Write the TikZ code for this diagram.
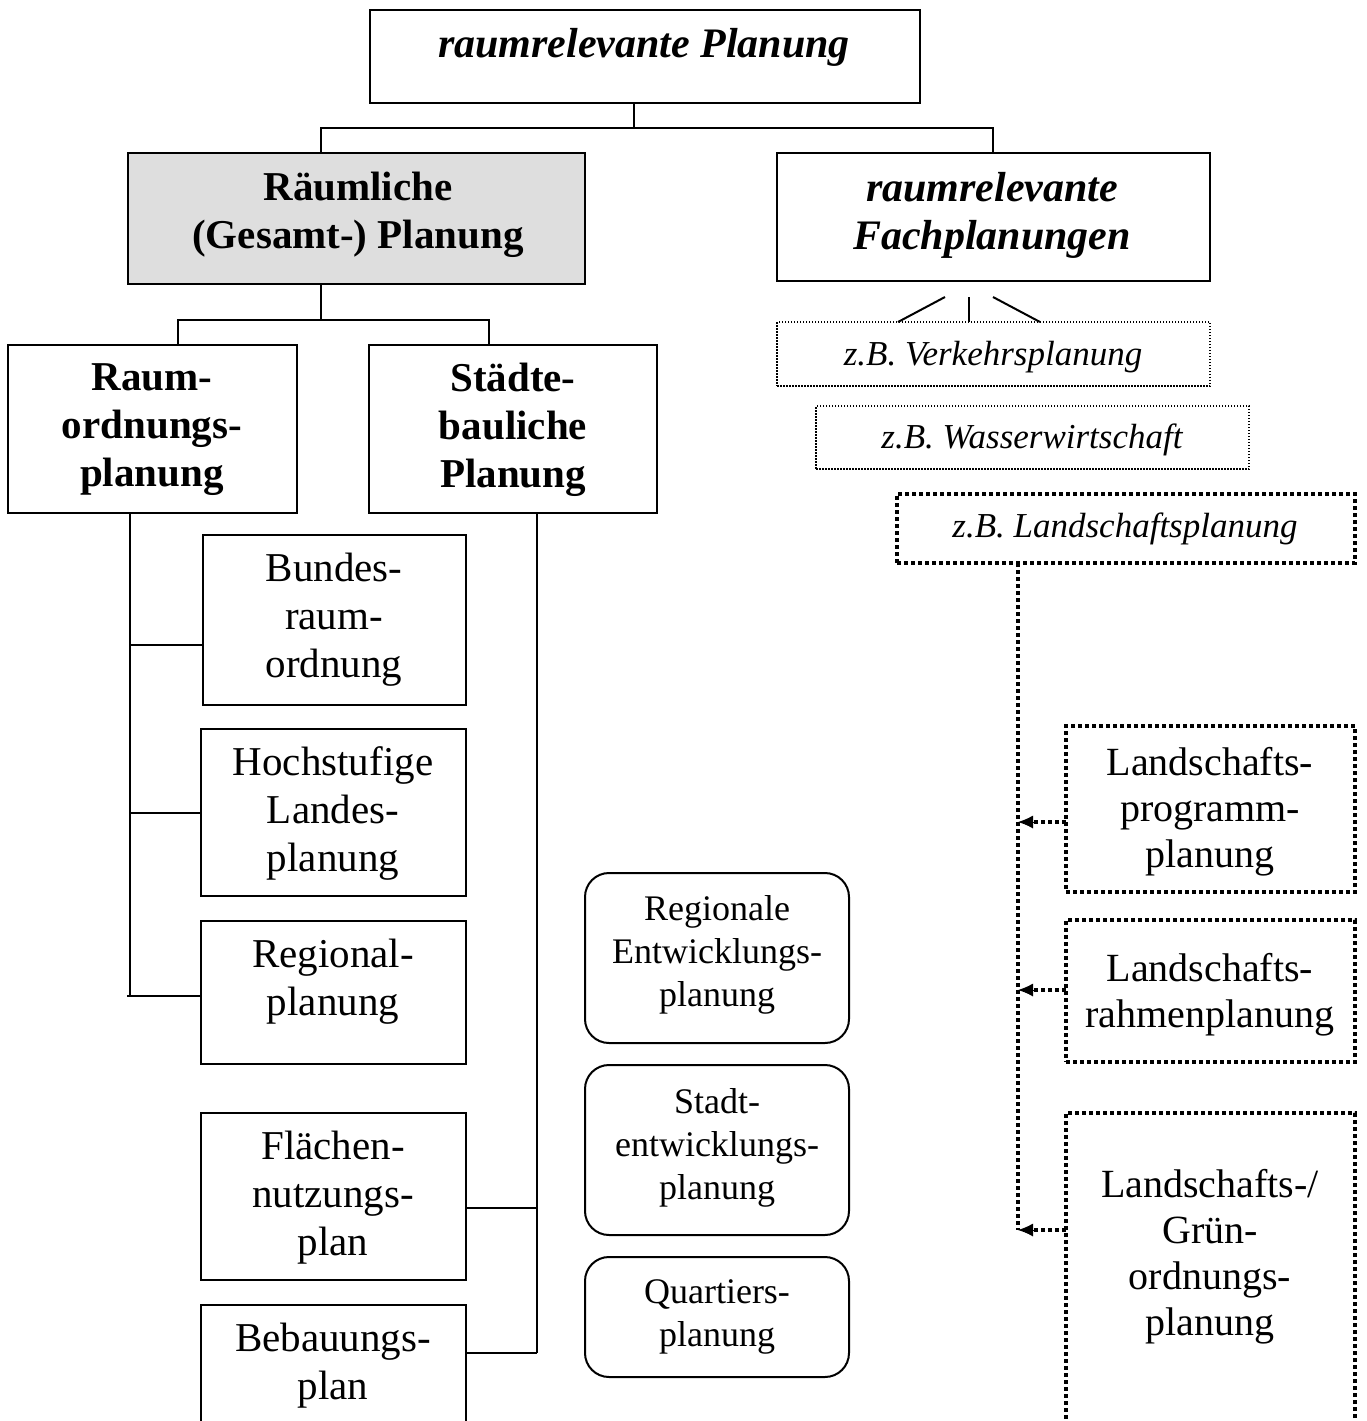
\documentclass[tikz,border=0pt]{standalone}
\usepackage{fontspec}
\setmainfont{Liberation Serif}
\usetikzlibrary{arrows.meta}
\newcommand{\PlanBox}[6]{%
  \node[#1, minimum width={(#5-#3)*0.5pt}, minimum height={(#6-#4)*0.5pt}] (#2) at ({(#3+#5)/2},{(#4+#6)/2}) {};}
\begin{document}
\begin{tikzpicture}[x=0.5pt,y=-0.5pt,
  box/.style={draw, line width=1pt, inner sep=0pt, outer sep=0pt},
  gbox/.style={box, fill=black!13},
  rbox/.style={box, rounded corners=12pt},
  thinbox/.style={draw, line width=0.75pt, dash pattern=on 0.75pt off 0.75pt, inner sep=0pt, outer sep=0pt},
  thickbox/.style={draw, line width=2pt, dash pattern=on 2pt off 1.5pt, inner sep=0pt, outer sep=0pt},
  conn/.style={line width=1pt},
  tdot/.style={line width=2pt, dash pattern=on 2pt off 1.5pt},
  tip/.style={line width=0.5pt, -{Latex[length=7.5pt,width=6.5pt]}},
  txt/.style={align=center, inner sep=0pt, font=\fontsize{20.5}{24}\selectfont},
  btxt/.style={txt, font=\fontsize{20.5}{24}\selectfont\bfseries},
  bitxt/.style={txt, font=\fontsize{21}{24}\selectfont\bfseries\itshape},
  rtxt/.style={align=center, inner sep=0pt, font=\fontsize{18}{21.5}\selectfont},
  itxt/.style={align=center, inner sep=0pt, font=\fontsize{17.5}{21}\selectfont\itshape},
  ltxt/.style={align=center, inner sep=0pt, font=\fontsize{20}{23}\selectfont}]
\useasboundingbox (0,0) rectangle (1367,1421);
\clip (0,0) rectangle (1367,1421);
% boxes
\PlanBox{box}{top}{370}{10}{920}{103}
\PlanBox{gbox}{rg}{128}{153}{585}{284}
\PlanBox{box}{fp}{777}{153}{1210}{281}
\PlanBox{box}{ro}{8}{345}{297}{513}
\PlanBox{box}{sb}{369}{345}{657}{513}
\PlanBox{box}{bro}{203}{535}{466}{705}
\PlanBox{box}{hlp}{201}{729}{466}{896}
\PlanBox{box}{rp}{201}{921}{466}{1064}
\PlanBox{box}{fnp}{201}{1113}{466}{1280}
\PlanBox{box}{bp}{201}{1305}{466}{1450}
\PlanBox{rbox}{rep}{585}{873}{849}{1043}
\PlanBox{rbox}{sep}{585}{1065}{849}{1235}
\PlanBox{rbox}{qp}{585}{1257}{849}{1377}
\PlanBox{thinbox}{vp}{777}{322}{1210}{386}
\PlanBox{thinbox}{ww}{816}{406}{1249}{469}
\PlanBox{thickbox}{lp}{897}{494}{1355}{563}
\PlanBox{thickbox}{lpp}{1066}{726}{1355}{892}
\PlanBox{thickbox}{lrp}{1066}{920}{1355}{1062}
\PlanBox{thickbox}{lgo}{1066}{1113}{1355}{1423}
% texts
\node[bitxt] (topt) at (644,47) {raumrelevante Planung};
\node[btxt] (rgt) at (358,215) {Räumliche\\(Gesamt-) Planung};
\node[bitxt] (fpt) at (992,215) {raumrelevante\\Fachplanungen};
\node[btxt] (rot) at (152,430) {Raum-\\ordnungs-\\planung};
\node[btxt] (sbt) at (513,430) {Städte-\\bauliche\\Planung};
\node[itxt] (vpt) at (993,357) {z.B. Verkehrsplanung};
\node[itxt] (wwt) at (1032,440) {z.B. Wasserwirtschaft};
\node[itxt] (lpt) at (1125,529) {z.B. Landschaftsplanung};
\node[txt] (brot) at (334,620) {Bundes-\\raum-\\ordnung};
\node[txt] (hlpt) at (333,813) {Hochstufige\\Landes-\\planung};
\node[txt] (rpt) at (333,982) {Regional-\\planung};
\node[txt] (fnpt) at (333,1198) {Flächen-\\nutzungs-\\plan};
\node[txt] (bpt) at (333,1366) {Bebauungs-\\plan};
\node[rtxt] (rept) at (717,955) {Regionale\\Entwicklungs-\\planung};
\node[rtxt] (sept) at (717,1148) {Stadt-\\entwicklungs-\\planung};
\node[rtxt] (qpt) at (717,1317) {Quartiers-\\planung};
\node[ltxt] (lppt) at (1210,812) {Landschafts-\\programm-\\planung};
\node[ltxt] (lrpt) at (1210,995) {Landschafts-\\rahmenplanung};
\node[ltxt] (lgot) at (1210,1257) {Landschafts-/\\Grün-\\ordnungs-\\planung};
% junction coordinates
\coordinate (jT) at (634,128);
\coordinate (jL) at (321,128);
\coordinate (jR) at (993,128);
\coordinate (kT) at (321,320);
\coordinate (kL) at (178,320);
\coordinate (kR) at (489,320);
\coordinate (vL) at (130,0);
\coordinate (vR) at (537,0);
\coordinate (fa) at (945,297);
\coordinate (fb) at (969,297);
\coordinate (fc) at (993,297);
\coordinate (va) at (898,322);
\coordinate (vb) at (969,322);
\coordinate (vc) at (1040,322);
\coordinate (dX) at (1018,0);
\coordinate (a1) at (1018,822);
\coordinate (a2) at (1018,990);
\coordinate (a3) at (1018,1230);
% connectors
\draw[conn] (top.south -| jT) -- (jT);
\draw[conn] (rg.north -| jL) -- (jL) -- (jR) -- (fp.north -| jR);
\draw[conn] (rg.south -| kT) -- (kT);
\draw[conn] (ro.north -| kL) -- (kL) -- (kR) -- (sb.north -| kR);
\draw[conn] (fa) -- (va);
\draw[conn] (fb) -- (vb);
\draw[conn] (fc) -- (vc);
\draw[conn] (ro.south -| vL) -- (vL |- 0,996);
\draw[conn] (vL |- 0,645) -- (bro.west |- 0,645);
\draw[conn] (vL |- 0,813) -- (hlp.west |- 0,813);
\draw[conn] (127,996) -- (rp.west |- 0,996);
\draw[conn] (sb.south -| vR) -- (vR |- 0,1353);
\draw[conn] (vR |- 0,1208) -- (fnp.east |- 0,1208);
\draw[conn] (vR |- 0,1353) -- (bp.east |- 0,1353);
\draw[tdot] (lp.south -| dX) -- (a3);
\draw[tdot] (lpp.west |- a1) -- ([xshift=6pt]a1);
\draw[tip] ([xshift=8pt]a1) -- (a1);
\draw[tdot] (lrp.west |- a2) -- ([xshift=6pt]a2);
\draw[tip] ([xshift=8pt]a2) -- (a2);
\draw[tdot] (lgo.west |- a3) -- ([xshift=6pt]a3);
\draw[tip] ([xshift=8pt]a3) -- (a3);
\end{tikzpicture}
\end{document}
